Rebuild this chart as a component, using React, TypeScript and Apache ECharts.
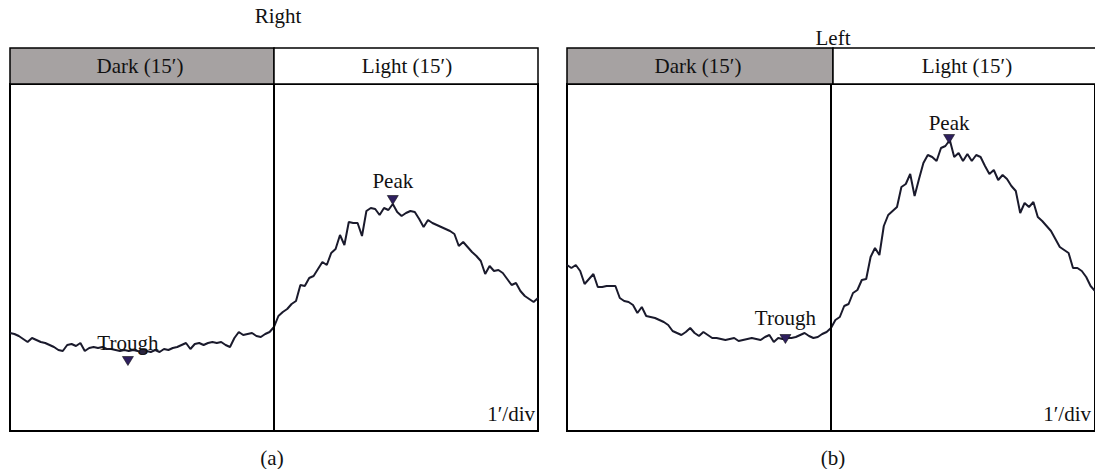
import React, { useEffect, useRef } from "react";
import * as echarts from "echarts";

// Sampling of the recorded traces (minutes between samples)
const SAMPLE_STEP_MIN = 0.25;
const DARK_MIN = 15;
const TOTAL_MIN = 30;

// Right eye trace (arbitrary amplitude units), t = 0 .. 30 min
const rightEyeTrace = [
  98, 97, 95, 92, 89, 93, 91, 89, 88, 86,
  84, 81, 80, 86, 87, 85, 88, 80, 83, 84,
  83, 84, 82, 82, 81, 80, 81, 80, 81, 80,
  79, 80, 79, 81, 79, 82, 81, 83, 84, 86,
  88, 82, 87, 88, 86, 88, 89, 88, 89, 86,
  84, 93, 99, 96, 97, 98, 95, 94, 97, 99,
  104, 115, 119, 122, 127, 130, 146, 145, 153, 155,
  162, 169, 166, 178, 182, 196, 186, 209, 208, 208,
  195, 220, 223, 222, 216, 223, 221, 227, 219, 215,
  218, 220, 219, 212, 204, 211, 208, 206, 204, 202,
  200, 197, 185, 189, 184, 179, 175, 170, 157, 165,
  160, 161, 158, 152, 146, 148, 140, 135, 132, 129,
  133,
];

// Left eye trace (arbitrary amplitude units), t = 0 .. 30 min
const leftEyeTrace = [
  166, 163, 166, 160, 147, 152, 157, 144, 144, 145,
  145, 145, 133, 130, 129, 126, 118, 124, 115, 114,
  113, 111, 109, 106, 100, 98, 96, 99, 103, 98,
  95, 99, 96, 93, 93, 92, 91, 92, 93, 90,
  91, 92, 93, 92, 91, 94, 96, 89, 93, 92,
  93, 93, 94, 96, 98, 95, 93, 94, 97, 99,
  103, 111, 114, 125, 127, 138, 141, 151, 152, 174,
  183, 176, 205, 216, 220, 224, 244, 247, 257, 235,
  252, 268, 276, 274, 270, 283, 285, 291, 274, 278,
  270, 277, 270, 276, 274, 265, 257, 261, 251, 256,
  252, 245, 240, 218, 228, 224, 229, 214, 210, 205,
  200, 192, 184, 181, 178, 163, 163, 160, 154, 145,
  140,
];

// Marked points: [minute, amplitude]
const rightTrough = [6.7, 70];
const rightTroughBlob = [7.56, 79];
const rightPeak = [21.75, 231];
const leftTrough = [12.41, 92];
const leftPeak = [21.71, 292];

const panelTitles = ["Right", "Left"];
const panelLetters = ["(a)", "(b)"];
const phaseLabels = ["Dark (15\u2032)", "Light (15\u2032)"];
const scaleLabel = "1\u2032/div";
const peakLabel = "Peak";
const troughLabel = "Trough";

const Y_MAX = 347;

const FONT = '"Liberation Serif", "DejaVu Serif", serif';
const FONT_SIZE = 21;
const GRAY = "#a6a2a2";
const INK = "#1a1a2c";
const MARK = "#2e1f5e";

function toPairs(values: number[]) {
  return values.map((v, i) => [i * SAMPLE_STEP_MIN, v]);
}

export default function App() {
  const ref = useRef<HTMLDivElement>(null);

  useEffect(() => {
    if (!ref.current) return;
    const chart = echarts.init(ref.current, undefined, { renderer: "svg" });

    const panels = [
      { left: 10, width: 528, titleY: 16 },
      { left: 567, width: 532, titleY: 38 },
    ];
    const headerTop = 48;
    const gridTop = 84;
    const gridHeight = 347;

    const txt = (text: string, x: number, y: number, align = "center") => ({
      type: "text",
      x,
      y,
      style: { text, fontSize: FONT_SIZE, fontFamily: FONT, fill: "#111", align, verticalAlign: "middle" },
    });

    const graphic: any[] = [];
    panels.forEach((p, i) => {
      const mid = p.left + p.width / 2;
      graphic.push({
        type: "rect",
        shape: { x: p.left, y: headerTop, width: p.width / 2, height: gridTop - headerTop },
        style: { fill: GRAY, stroke: "#000", lineWidth: 1.5 },
      });
      graphic.push({
        type: "rect",
        shape: { x: mid, y: headerTop, width: p.width / 2, height: gridTop - headerTop },
        style: { fill: "#fff", stroke: "#000", lineWidth: 1.5 },
      });
      graphic.push(txt(phaseLabels[0], (p.left + mid) / 2 - 2, (headerTop + gridTop) / 2));
      graphic.push(txt(phaseLabels[1], mid + p.width / 4 + 1, (headerTop + gridTop) / 2));
      graphic.push(txt(panelTitles[i], mid + (i === 0 ? 4 : 0), p.titleY));
      graphic.push(txt(panelLetters[i], mid - (i === 0 ? 2 : 0), 458));
      graphic.push(txt(scaleLabel, i === 0 ? 535 : 1091, 414, "right"));
    });

    const markPointFor = (trough: number[], peak: number[], troughDist: number, peakDist: number, extra?: number[]) => {
      const data: any[] = [
        {
          coord: trough,
          symbol: "triangle",
          symbolRotate: 180,
          symbolSize: [11, 9],
          itemStyle: { color: MARK, borderColor: "#111", borderWidth: 0.6 },
          label: { show: true, position: "top", distance: troughDist, formatter: troughLabel, fontSize: FONT_SIZE, fontFamily: FONT, color: "#111" },
        },
        {
          coord: peak,
          symbol: "triangle",
          symbolRotate: 180,
          symbolSize: [11, 9],
          itemStyle: { color: MARK, borderColor: "#111", borderWidth: 0.6 },
          label: { show: true, position: "top", distance: peakDist, formatter: peakLabel, fontSize: FONT_SIZE, fontFamily: FONT, color: "#111" },
        },
      ];
      if (extra) {
        data.push({
          coord: extra,
          symbol: "circle",
          symbolSize: [9, 6],
          itemStyle: { color: "#2a2540" },
          label: { show: false },
        });
      }
      return { silent: true, data };
    };

    const dividerLine = {
      silent: true,
      symbol: ["none", "none"],
      label: { show: false },
      lineStyle: { color: "#000", width: 2, type: "solid" },
      data: [{ xAxis: DARK_MIN }],
    };

    chart.setOption({
      animation: false,
      backgroundColor: "#fff",
      graphic,
      grid: panels.map((p) => ({
        left: p.left,
        top: gridTop,
        width: p.width,
        height: gridHeight,
        show: true,
        borderColor: "#000",
        borderWidth: 2,
        backgroundColor: "transparent",
      })),
      xAxis: panels.map((_, i) => ({
        type: "value",
        gridIndex: i,
        min: 0,
        max: TOTAL_MIN,
        show: false,
      })),
      yAxis: panels.map((_, i) => ({
        type: "value",
        gridIndex: i,
        min: 0,
        max: Y_MAX,
        show: false,
      })),
      series: [
        {
          type: "line",
          xAxisIndex: 0,
          yAxisIndex: 0,
          data: toPairs(rightEyeTrace),
          showSymbol: false,
          lineStyle: { color: INK, width: 2 },
          markLine: dividerLine,
          markPoint: markPointFor(rightTrough, rightPeak, 3, 4, rightTroughBlob),
        },
        {
          type: "line",
          xAxisIndex: 1,
          yAxisIndex: 1,
          data: toPairs(leftEyeTrace),
          showSymbol: false,
          lineStyle: { color: INK, width: 2 },
          markLine: dividerLine,
          markPoint: markPointFor(leftTrough, leftPeak, 6, 1),
        },
      ],
    });

    return () => chart.dispose();
  }, []);

  return (
    <div
      ref={ref}
      style={{ position: "absolute", left: 0, top: 0, width: 1095, height: 469 }}
    />
  );
}
